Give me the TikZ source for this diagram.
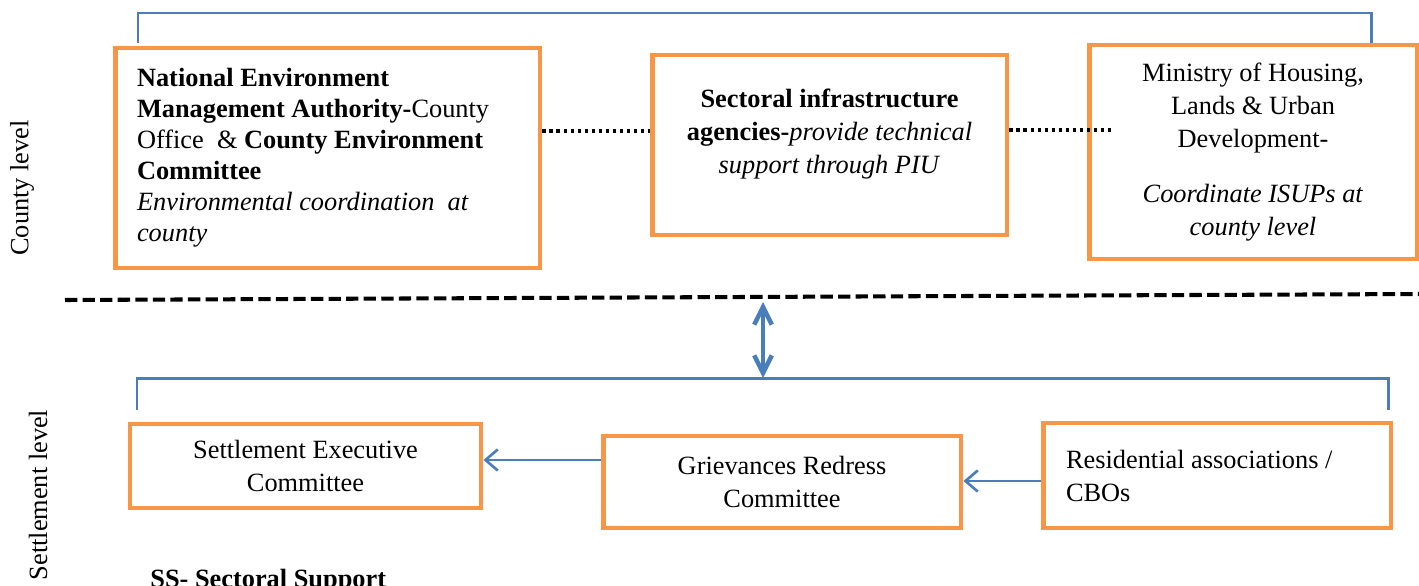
\documentclass[tikz,border=0pt]{standalone}
\usepackage{fontspec}
\setmainfont{Liberation Serif}
\usepackage{tikz}
\usetikzlibrary{arrows.meta, positioning, calc}
\definecolor{boxOrange}{RGB}{247, 150, 70}
\definecolor{linkBlue}{RGB}{74, 126, 187}
\tikzset{
  orgbox/.style={
    rectangle,
    draw=boxOrange, line width=2.8pt, fill=white,
    inner sep=0pt, align=center,
    font=\fontsize{15}{18.8}\selectfont
  },
  plaintext/.style={
    inner sep=0pt, align=center,
    font=\fontsize{15}{18.8}\selectfont
  },
  bracketline/.style={
    draw=linkBlue, line width=1.7pt
  },
  dotlink/.style={
    draw=black, line width=2.3pt, dash pattern=on 2pt off 2pt
  },
  levelline/.style={
    draw=black, line width=2.3pt, dash pattern=on 7pt off 3pt
  },
  flowarrow/.style={
    -{Straight Barb[length=7pt,width=12pt]},
    draw=linkBlue, line width=1.5pt
  },
  twoway/.style={
    {Straight Barb[length=10pt,width=10pt]}-{Straight Barb[length=10pt,width=10pt]},
    draw=linkBlue, line width=2.6pt
  }
}

\begin{document}
\begin{tikzpicture}[x=0.02cm, y=-0.02cm]

  \useasboundingbox (0,0) rectangle (1419,585);

  % county level
  \node[orgbox, minimum width=8.5cm, minimum height=4.4cm,
        text width=7.62cm, align=flush left,
        font=\fontsize{15}{17.6}\selectfont] (nema) at (327.5,158)
    {\textbf{National Environment}\\
     \textbf{Management Authority-}County\\
     Office \ \& \textbf{County Environment}\\
     \textbf{Committee}\\
     \textit{Environmental coordination \ at}\\
     \textit{county}};

  \node[orgbox, minimum width=7.1cm, minimum height=3.6cm] (sia) at (829.5,145) {};
  \node[plaintext] (siatext) at (829.5,134)
    {\textbf{Sectoral infrastructure}\\
     \textbf{agencies-}\textit{provide technical}\\
     \textit{support through PIU}};

  \node[orgbox, minimum width=6.56cm, minimum height=4.28cm] (moh) at (1253,152)
    {Ministry of Housing,\\
     Lands \& Urban\\
     Development-\\[12pt]
     \textit{Coordinate ISUPs at}\\
     \textit{county level}};

  \node[plaintext, rotate=90] (countylvl) at (22,188) {County level};

  \coordinate (ctl) at (138,43);
  \coordinate (ctr) at (1371,43);
  \draw[bracketline] (ctl) -- (138,13) -- (1371,13) -- (ctr);

  \draw[dotlink] (nema.east |- 0,131) -- (sia.west |- 0,131);
  \draw[dotlink] (sia.east |- 0,130) -- (1113,130);

  % level divider
  \coordinate (dl) at (65,300);
  \coordinate (dr) at (1419,294);
  \draw[levelline] (dl) -- (dr);

  % settlement level
  \node[orgbox, minimum width=7.02cm, minimum height=1.68cm] (sec) at (305.5,466)
    {Settlement Executive\\Committee};

  \node[orgbox, minimum width=7.16cm, minimum height=1.84cm] (grc) at (782,482)
    {Grievances Redress\\Committee};

  \node[orgbox, minimum width=6.96cm, minimum height=2.1cm,
        text width=6.04cm, align=flush left] (ra) at (1217,475.5)
    {Residential associations /\\CBOs};

  \node[plaintext, rotate=90] (settlelvl) at (38,495) {Settlement level};

  \node[plaintext, anchor=base west] (ss) at (150,587) {\textbf{SS- Sectoral Support}};

  \coordinate (sbl) at (137,410);
  \coordinate (sbr) at (1388,410);
  \coordinate (sbm) at (763,378);
  \coordinate (dm) at (763,302);
  \draw[bracketline] (sbl) -- (137,378) -- (1388,378) -- (sbr);

  \draw[twoway] (dm) -- (sbm);
  \draw[flowarrow] (grc.west |- 0,460) -- (sec.east |- 0,460);
  \draw[flowarrow] (ra.west |- 0,481) -- (grc.east |- 0,481);

\end{tikzpicture}
\end{document}
